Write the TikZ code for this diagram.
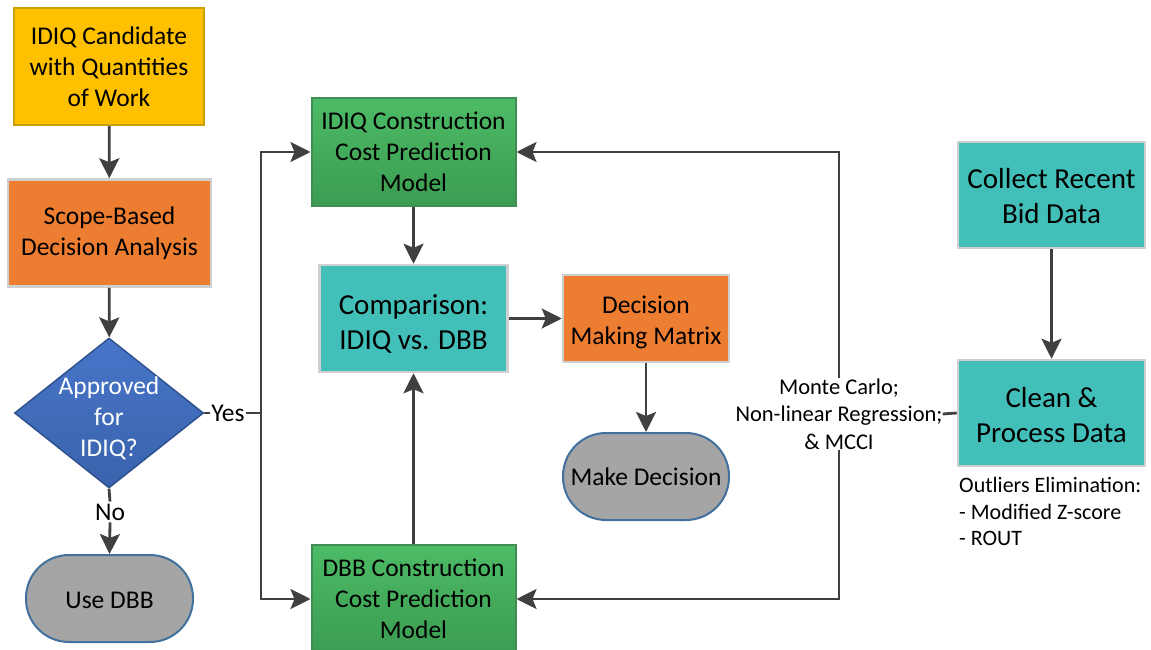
\documentclass[tikz,border=0pt]{standalone}
\usepackage{fontspec}
\setmainfont{Carlito}
\usetikzlibrary{shapes.geometric,arrows.meta}

\definecolor{gold}{HTML}{FFC000}
\definecolor{goldline}{HTML}{C9A100}
\definecolor{orangefill}{HTML}{ED7D31}
\definecolor{tealfill}{HTML}{43BFB9}
\definecolor{paleline}{HTML}{CFCFCF}
\definecolor{greentop}{HTML}{4DBB66}
\definecolor{greenbot}{HTML}{3B9C51}
\definecolor{greenline}{HTML}{3F8F54}
\definecolor{termfill}{HTML}{A5A5A5}
\definecolor{termline}{HTML}{41719C}
\definecolor{bluetop}{HTML}{4775C8}
\definecolor{bluebot}{HTML}{3A63AC}
\definecolor{blueline}{HTML}{2F528F}
\definecolor{wire}{HTML}{404040}

% text block lowered inside its box, keeping the box size
\newcommand{\lowered}[2]{\raisebox{-#1}[\height][\depth]{\begin{tabular}{@{}c@{}}#2\end{tabular}}}

\tikzset{
  txt/.style={font=\fontsize{25.5}{31}\selectfont, align=center, inner sep=0pt},
  bigtxt/.style={font=\fontsize{29}{35}\selectfont, align=center, inner sep=0pt},
  startbox/.style={txt, rectangle, fill=gold, draw=goldline, line width=2pt},
  orangebox/.style={txt, rectangle, fill=orangefill, draw=paleline, line width=2.5pt},
  tealbox/.style={bigtxt, rectangle, fill=tealfill, draw=paleline, line width=2.5pt},
  greenbox/.style={txt, rectangle, top color=greentop, bottom color=greenbot, draw=greenline, line width=2pt},
  terminal/.style={txt, rectangle, rounded corners=43pt, fill=termfill, draw=termline, line width=2pt},
  decision/.style={diamond, inner sep=0pt, top color=bluetop, bottom color=bluebot, draw=blueline, line width=1.5pt},
  wirestyle/.style={draw=wire, line width=2.8pt},
  arr/.style={wirestyle, -{Stealth[length=20pt, width=20pt, inset=4pt]}},
}

\begin{document}
\begin{tikzpicture}[x=1pt, y=-1pt]
\useasboundingbox (0,0) rectangle (1151,650);

% left column
\node[startbox, minimum width=190pt, minimum height=117pt] (cand) at (109,66.5)
  {IDIQ Candidate\\with Quantities\\of Work};
\node[orangebox, minimum width=203pt, minimum height=107pt] (scope) at (109.5,233)
  {Scope-Based\\Decision Analysis};
\node[decision, minimum width=189pt, minimum height=150pt, aspect=1.26] (dia) at (109,413) {};
\node[txt, text=white] (diatext) at (109,418) {Approved\\for\\IDIQ?};
\node[terminal, minimum width=167pt, minimum height=87pt] (usedbb) at (109.5,598.5)
  {\lowered{4pt}{Use DBB}};
\node[txt, inner sep=2pt] (no) at (110,512) {No};
\node[txt, inner sep=1.5pt] (yes) at (228,413) {Yes};
\coordinate (split) at (261,413);

% middle column
\node[greenbox, minimum width=204pt, minimum height=108pt] (idiq) at (413.5,152)
  {IDIQ Construction\\Cost Prediction\\Model};
\node[tealbox, minimum width=188pt, minimum height=107pt] (comp) at (413.5,318.5)
  {\lowered{6pt}{Comparison:\\IDIQ vs. DBB}};
\node[greenbox, minimum width=204pt, minimum height=108pt] (dbb) at (413.5,599)
  {DBB Construction\\Cost Prediction\\Model};
\node[orangebox, minimum width=166pt, minimum height=87pt] (dmm) at (646,318.5)
  {\lowered{4pt}{Decision\\Making Matrix}};
\node[terminal, minimum width=166pt, minimum height=87pt] (make) at (646,476.5)
  {\lowered{3pt}{Make Decision}};

% modelling methods label
\node[align=center, inner sep=0pt, font=\fontsize{22.5}{27.5}\selectfont] (mc) at (839,414)
  {Monte Carlo;\\Non-linear Regression;\\\& MCCI};

% right column
\node[tealbox, minimum width=187pt, minimum height=106pt] (collect) at (1051.5,195)
  {\lowered{4pt}{Collect Recent\\Bid Data}};
\node[tealbox, minimum width=187pt, minimum height=106pt] (clean) at (1051.5,413)
  {\lowered{5pt}{Clean \&\\Process Data}};
\node[anchor=north west, inner sep=0pt, font=\fontsize{22}{26.5}\selectfont] (outl) at (959,474)
  {\begin{tabular}{@{}l@{}}Outliers Elimination:\\{}- Modified Z-score\\{}- ROUT\end{tabular}};

% connectors
\draw[arr] (cand) -- (scope);
\draw[arr] (scope) -- (dia);
\draw[wirestyle] (dia.south) -- (no.north);
\draw[arr] (no.south) -- (usedbb.north);
\draw[wirestyle] (dia.east) -- (yes.west);
\draw[wirestyle] (yes.east) -- (split);
\draw[arr] (split) |- (idiq.west);
\draw[arr] (split) |- (dbb.west);
\draw[arr] (idiq) -- (comp);
\draw[arr] (dbb) -- (comp);
\draw[arr] (comp.east) -- (comp.east -| dmm.west);
\draw[arr] (dmm) -- (make);
\draw[arr] (collect) -- (clean);
\draw[wirestyle] (clean.west) -- (mc.east);
\draw[arr] (mc.north) |- (idiq.east);
\draw[arr] (mc.south) |- (dbb.east);
\end{tikzpicture}
\end{document}
